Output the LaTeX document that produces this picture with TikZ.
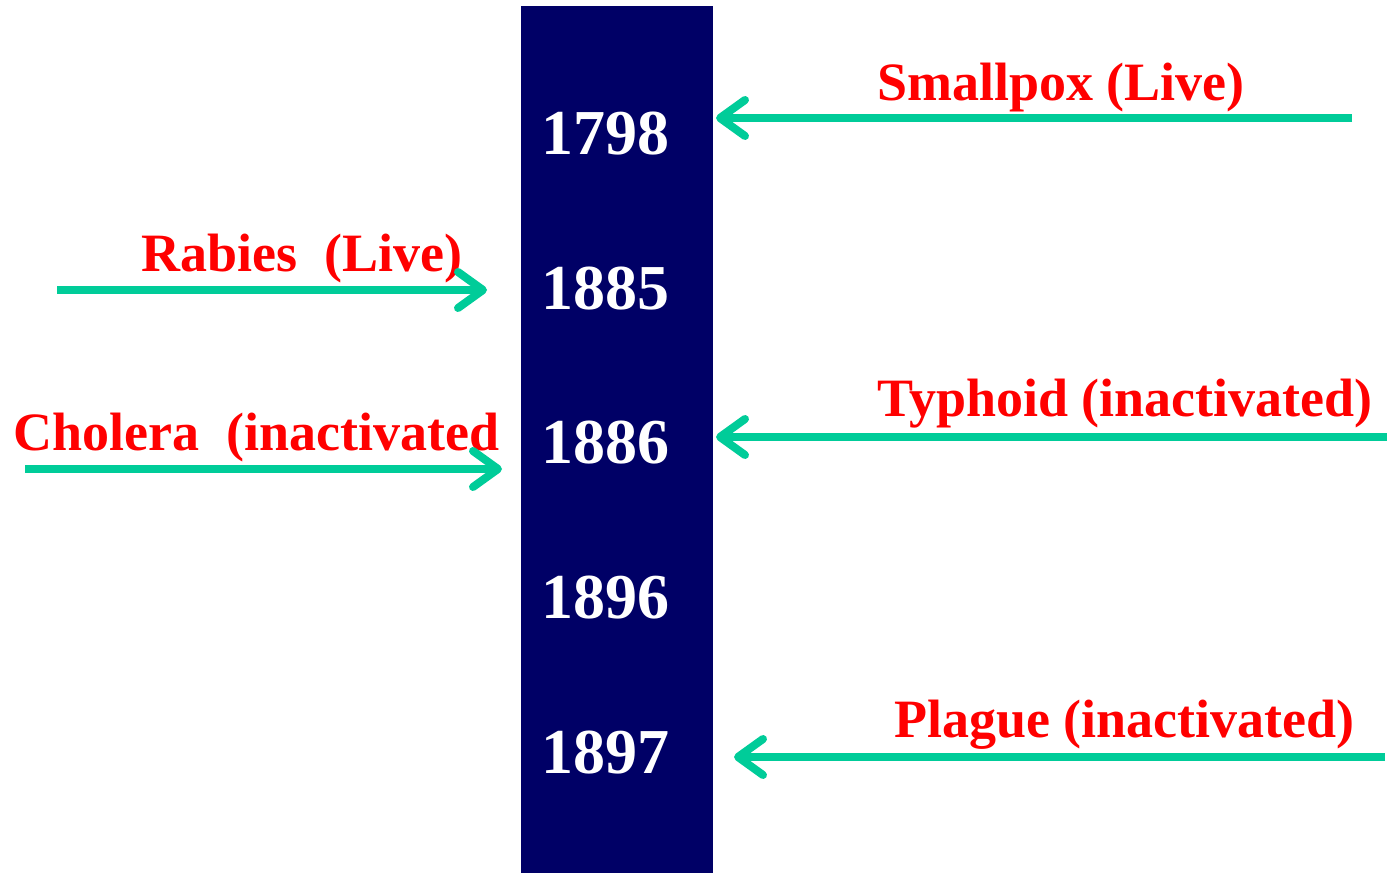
\documentclass[tikz,border=0pt]{standalone}
\usepackage{fontspec}
\setmainfont{Liberation Serif}
\usetikzlibrary{arrows.meta}
\definecolor{navy}{HTML}{000066}
\definecolor{teal}{HTML}{00CC99}
\definecolor{lred}{HTML}{FF0000}
\tikzset{
  yearlbl/.style={anchor=base west,inner sep=0pt,text=white,font=\bfseries\fontsize{64}{64}\selectfont},
  vlbl/.style={anchor=base west,inner sep=0pt,text=lred,font=\bfseries\fontsize{54}{54}\selectfont},
  varrow/.style={draw=teal,line width=8pt,-{Straight Barb[length=25pt,width=36pt,round]}}
}
\begin{document}
\begin{tikzpicture}[x=1pt,y=-1pt]
\useasboundingbox (0,0) rectangle (1387,874);
\fill[white] (0,0) rectangle (1387,874);
\node[fill=navy,inner sep=0pt,minimum width=192pt,minimum height=867pt,anchor=north west] (bar) at (521,6) {};
\node[yearlbl] (y1) at (541,155) {1798};
\node[yearlbl] (y2) at (541,310) {1885};
\node[yearlbl] (y3) at (541,464) {1886};
\node[yearlbl] (y4) at (541,618) {1896};
\node[yearlbl] (y5) at (541,773) {1897};
\node[vlbl] (l1) at (877,101) {Smallpox (Live)};
\node[vlbl] (l2) at (141,272) {Rabies\ \ (Live)};
\node[vlbl] (l3) at (13,450) {Cholera\ \ (inactivated};
\node[vlbl] (l4) at (877,417) {Typhoid (inactivated)};
\node[vlbl] (l5) at (894,737) {Plague (inactivated)};
\coordinate (s1) at (1352,118); \coordinate (t1) at (716,118);
\coordinate (s2) at (57,290);   \coordinate (t2) at (487,290);
\coordinate (s3) at (25,469);   \coordinate (t3) at (502,469);
\coordinate (s4) at (1387,437); \coordinate (t4) at (716,437);
\coordinate (s5) at (1385,757); \coordinate (t5) at (734,757);
\draw[varrow] (s1) -- (t1);
\draw[varrow] (s2) -- (t2);
\draw[varrow] (s3) -- (t3);
\draw[varrow] (s4) -- (t4);
\draw[varrow] (s5) -- (t5);
\end{tikzpicture}
\end{document}
